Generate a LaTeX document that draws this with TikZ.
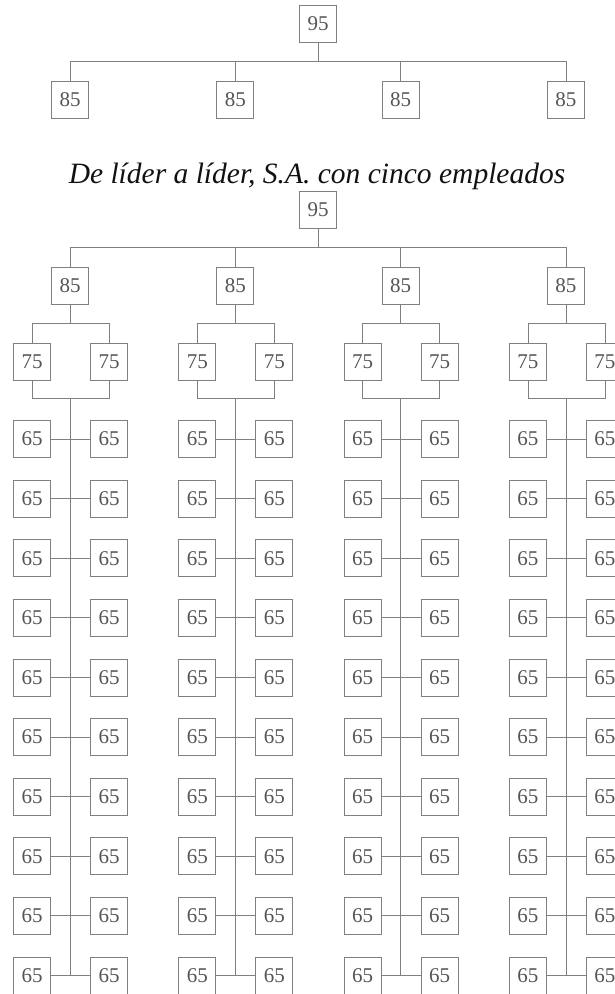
\documentclass[tikz,border=0pt]{standalone}
\usepackage{fontspec}
\setmainfont{Liberation Serif}
\usetikzlibrary{positioning,calc}
\definecolor{boxgray}{HTML}{808080}
\definecolor{numgray}{HTML}{555555}
\definecolor{titleblack}{HTML}{111111}

\begin{document}
\begin{tikzpicture}[x=1pt,y=-1pt,
  caja/.style={draw=boxgray,line width=0.8pt,fill=white,minimum width=37pt,minimum height=37pt,
    inner sep=0pt,text=numgray,font=\fontsize{21}{21}\selectfont},
  linea/.style={draw=boxgray,line width=0.8pt},
  titulo/.style={anchor=base,text=titleblack,font=\fontsize{29.5}{31}\selectfont\itshape}]
\useasboundingbox (0,0) rectangle (615,994);
% organigrama superior
\node[caja] (top95) at (318,24) {95};
\coordinate (tj) at (318,61);
\draw[linea] (top95) -- (tj);
\foreach \i in {1,...,4}{
  \node[caja] (t\i) at ({70+165.33*(\i-1)},100) {85};
  \draw[linea] (t\i.north) |- (tj);
}
% titulo
\node[titulo] (tit) at (317,183) {De líder a líder, S.A. con cinco empleados};
% organigrama inferior
\node[caja] (b95) at (318,210) {95};
\coordinate (bj) at (318,247);
\draw[linea] (b95) -- (bj);
\foreach \i in {1,...,4}{
  \pgfmathsetmacro{\cx}{70+165.33*(\i-1)}
  \node[caja] (m\i) at (\cx,286) {85};
  \draw[linea] (m\i.north) |- (bj);
  \coordinate (mj\i) at (\cx,323);
  \draw[linea] (m\i) -- (mj\i);
  \node[caja] (l\i a) at (\cx-38,362) {75};
  \node[caja] (l\i b) at (\cx+39,362) {75};
  \draw[linea] (l\i a.north) |- (mj\i);
  \draw[linea] (l\i b.north) |- (mj\i);
  \coordinate (lj\i) at (\cx,398);
  \draw[linea] (l\i a.south) |- (lj\i);
  \draw[linea] (l\i b.south) |- (lj\i);
  \coordinate (sp\i) at (\cx,{439+59.6*9});
  \draw[linea] (lj\i) -- (sp\i);
  \foreach \k in {0,...,9}{
    \node[caja] (e\i-\k a) at (\cx-38,{439+59.6*\k}) {65};
    \node[caja] (e\i-\k b) at (\cx+39,{439+59.6*\k}) {65};
    \draw[linea] (e\i-\k a) -- (e\i-\k b);
  }
}
\end{tikzpicture}
\end{document}
